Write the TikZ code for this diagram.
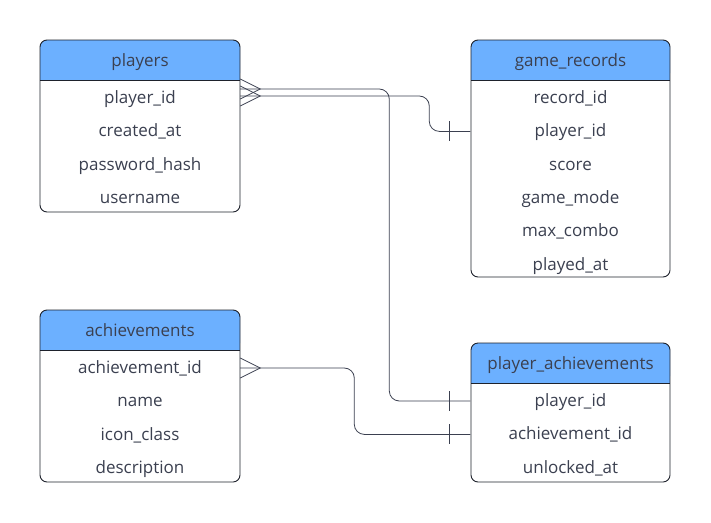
\documentclass[tikz,border=0pt]{standalone}
\usepackage{fontspec}
\setmainfont{Open Sans}
\usetikzlibrary{positioning,calc}
\definecolor{headblue}{HTML}{6CB0FF}
\definecolor{ink}{HTML}{3B4050}
\definecolor{edge}{HTML}{1E222C}

\begin{document}
\begin{tikzpicture}[x=1pt, y=-1pt,
	frame/.style={draw=edge, line width=0.9pt, rounded corners=7pt},
	title/.style={text=ink, font=\fontsize{17}{20}\selectfont, inner sep=0pt, text height=13.4pt, text depth=3pt},
	field/.style={text=ink, font=\fontsize{17}{20}\selectfont, minimum width=200pt, minimum height=33pt, inner sep=0pt, text height=13.4pt, text depth=3pt},
	rel/.style={draw=ink, line width=0.8pt},
	link/.style={rel, rounded corners=10pt}]
	
	\useasboundingbox[fill=white] (0,0) rectangle (711,522);
	
	% headers
	\fill[headblue, rounded corners=7pt] (40,40) rectangle (240,80);
	\fill[headblue] (40,60) rectangle (240,80);
	\fill[headblue, rounded corners=7pt] (471,40) rectangle (670,80);
	\fill[headblue] (471,60) rectangle (670,80);
	\fill[headblue, rounded corners=7pt] (40,310) rectangle (240,350);
	\fill[headblue] (40,330) rectangle (240,350);
	\fill[headblue, rounded corners=7pt] (471,343) rectangle (670,383);
	\fill[headblue] (471,363) rectangle (670,383);
	
	% frames
	\draw[frame] (40,40) rectangle (240,212);
	\draw[edge, line width=0.9pt] (40,80) -- (240,80);
	\draw[frame] (471,40) rectangle (670,277);
	\draw[edge, line width=0.9pt] (471,80) -- (670,80);
	\draw[frame] (40,310) rectangle (240,482);
	\draw[edge, line width=0.9pt] (40,350) -- (240,350);
	\draw[frame] (471,343) rectangle (670,482);
	\draw[edge, line width=0.9pt] (471,383) -- (670,383);
	
	% players
	\node[title] (players) at (140,61) {players};
	\node[field] (players-id) at (140,98) {player\_id};
	\node[field, below=0pt of players-id] (players-created) {created\_at};
	\node[field, below=0pt of players-created] (players-hash) {password\_hash};
	\node[field, below=0pt of players-hash] (players-name) {username};
	
	% game_records
	\node[title] (records) at (570.5,61) {game\_records};
	\node[field] (records-id) at (570.5,98) {record\_id};
	\node[field, below=0pt of records-id] (records-player) {player\_id};
	\node[field, below=0pt of records-player] (records-score) {score};
	\node[field, below=0pt of records-score] (records-mode) {game\_mode};
	\node[field, below=0pt of records-mode] (records-combo) {max\_combo};
	\node[field, below=0pt of records-combo] (records-played) {played\_at};
	
	% achievements
	\node[title] (ach) at (140,331) {achievements};
	\node[field] (ach-id) at (140,368) {achievement\_id};
	\node[field, below=0pt of ach-id] (ach-name) {name};
	\node[field, below=0pt of ach-name] (ach-icon) {icon\_class};
	\node[field, below=0pt of ach-icon] (ach-desc) {description};
	
	% player_achievements
	\node[title] (pa) at (570.5,364) {player\_achievements};
	\node[field] (pa-player) at (570.5,401) {player\_id};
	\node[field, below=0pt of pa-player] (pa-ach) {achievement\_id};
	\node[field, below=0pt of pa-ach] (pa-unlocked) {unlocked\_at};
	
	% relations
	\coordinate (pe1) at ([yshift=2pt]players-id.east);
	\coordinate (pe2) at ([yshift=9pt]players-id.east);
	
	\draw[rel] (pe1) ++(0,-10) -- ++(20,10) -- ++(-20,10);
	\draw[link] (pe1) -| ([xshift=-41pt]records-player.west) -- (records-player.west);
	\draw[rel] ([xshift=-21pt]records-player.west) ++(0,-10) -- ++(0,20);
	
	\draw[rel] (pe2) ++(0,-10) -- ++(20,10) -- ++(-20,10);
	\draw[link] (pe2) -| ([xshift=-81pt]pa-player.west) -- (pa-player.west);
	\draw[rel] ([xshift=-21pt]pa-player.west) ++(0,-10) -- ++(0,20);
	
	\draw[rel] (ach-id.east) ++(0,-10) -- ++(20,10) -- ++(-20,10);
	\draw[link] (ach-id.east) -| ([xshift=-116pt]pa-ach.west) -- (pa-ach.west);
	\draw[rel] ([xshift=-21pt]pa-ach.west) ++(0,-10) -- ++(0,20);
	
\end{tikzpicture}
\end{document}
